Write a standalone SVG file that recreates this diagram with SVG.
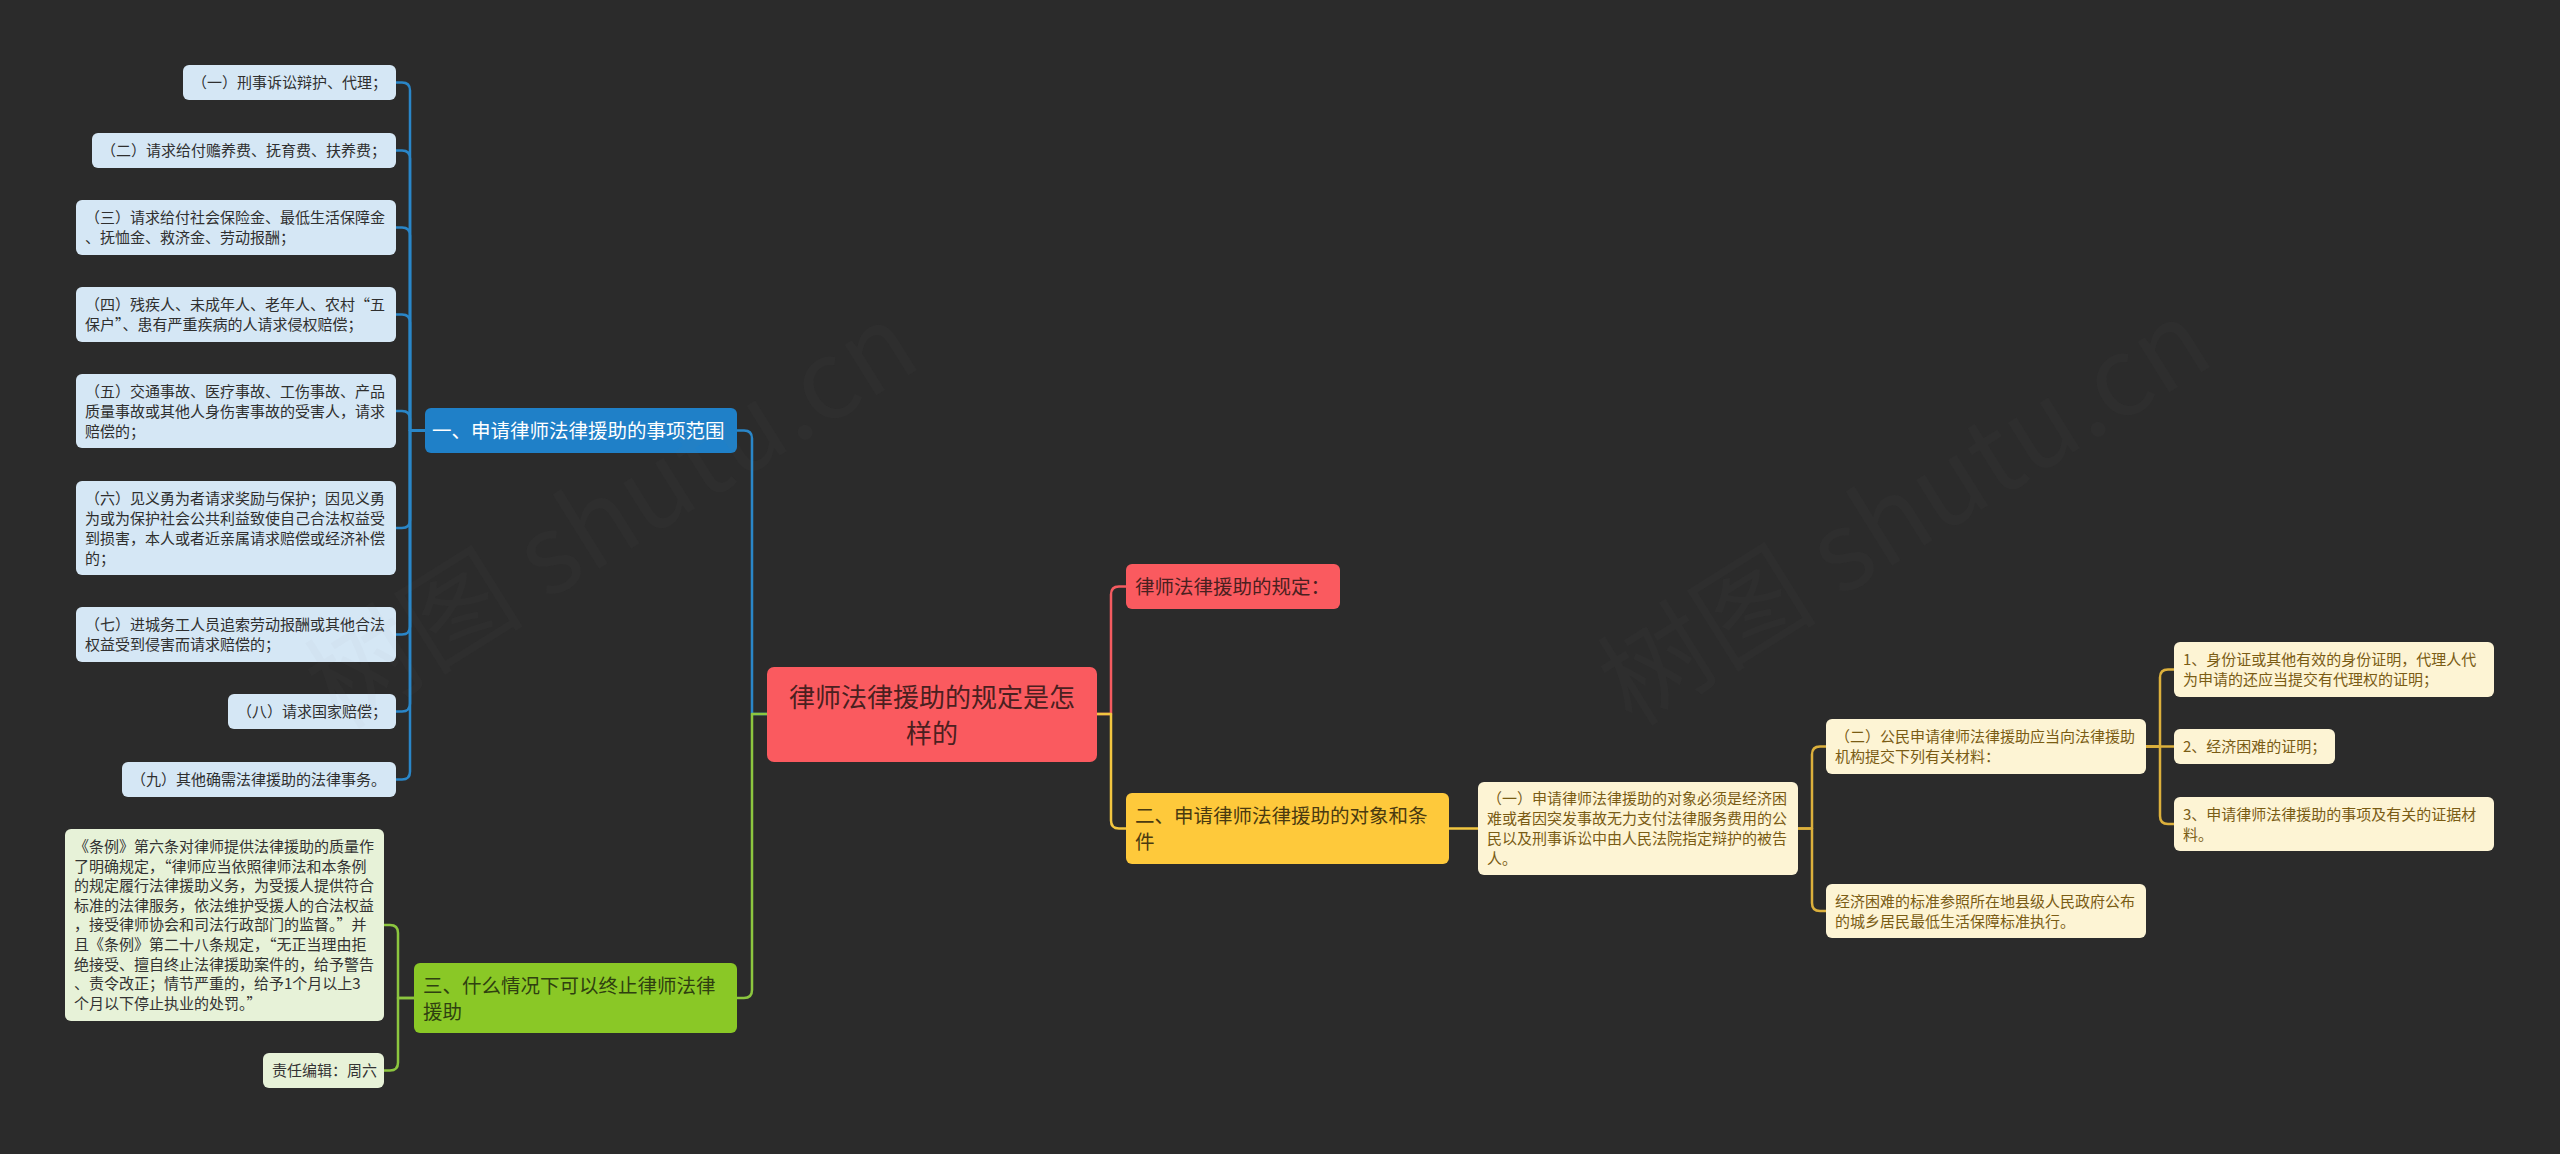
<svg xmlns="http://www.w3.org/2000/svg" width="2560" height="1154" viewBox="0 0 2560 1154">
<style>
text{font-family:"Noto Sans CJK SC","Microsoft YaHei",sans-serif}
.bg{fill:#2b2b2b}
.c{fill:none;stroke-width:2.5;stroke-linecap:round;stroke-linejoin:round}
.cb{stroke:#2a86c8}.cg{stroke:#8cc63f}.cr{stroke:#f45b60}.cy{stroke:#f2c640}.co{stroke:#dcb03c}
.nb{fill:#d5e7f5}.tb{fill:#2f2f2f;font-size:15px}
.bb{fill:#1f80c8}.tbb{fill:#ffffff;font-size:19.5px}
.root{fill:#fa5a5f}.troot{fill:#4a2020;font-size:26px}
.rr{fill:#fa5a5f}.trr{fill:#4a2020;font-size:19.5px}
.yy{fill:#fec93b}.tyy{fill:#4a3a10;font-size:19.5px}
.gg{fill:#8ac826}.tgg{fill:#2f4010;font-size:19.5px}
.no{fill:#fdf4d4}.to{fill:#7a5c14;font-size:15px}
.ng{fill:#e7f2d8}.tg{fill:#333333;font-size:15px}
.wm{fill:#9a9a9a;fill-opacity:0.035;font-size:110px}
</style>
<rect class="bg" x="0" y="0" width="2560" height="1154"/>

<g id="connectors">
<path class="c cb" d="M425 430.5H410V90.5Q410 82.5 402 82.5H396"/>
<path class="c cb" d="M425 430.5H410V158.5Q410 150.5 402 150.5H396"/>
<path class="c cb" d="M425 430.5H410V235.5Q410 227.5 402 227.5H396"/>
<path class="c cb" d="M425 430.5H410V322.5Q410 314.5 402 314.5H396"/>
<path class="c cb" d="M425 430.5H410V419Q410 411 402 411H396"/>
<path class="c cb" d="M425 430.5H410V520Q410 528 402 528H396"/>
<path class="c cb" d="M425 430.5H410V626.5Q410 634.5 402 634.5H396"/>
<path class="c cb" d="M425 430.5H410V703.5Q410 711.5 402 711.5H396"/>
<path class="c cb" d="M425 430.5H410V771.5Q410 779.5 402 779.5H396"/>
<path class="c cb" d="M767 714H752V438.5Q752 430.5 744 430.5H737"/>
<path class="c cg" d="M767 714H752V990Q752 998 744 998H737"/>
<path class="c cg" d="M414 998H398V933Q398 925 390 925H384"/>
<path class="c cg" d="M414 998H398V1062.5Q398 1070.5 390 1070.5H384"/>
<path class="c cr" d="M1097 714H1111V594.5Q1111 586.5 1119 586.5H1126"/>
<path class="c cy" d="M1097 714H1111V820.5Q1111 828.5 1119 828.5H1126"/>
<path class="c cy" d="M1449 828.5H1478"/>
<path class="c co" d="M1798 828.5H1812V754.5Q1812 746.5 1820 746.5H1826"/>
<path class="c co" d="M1798 828.5H1812V903Q1812 911 1820 911H1826"/>
<path class="c co" d="M2146 746.5H2160V677.5Q2160 669.5 2168 669.5H2174"/>
<path class="c co" d="M2146 746.5H2174"/>
<path class="c co" d="M2146 746.5H2160V816Q2160 824 2168 824H2174"/>
</g>

<g id="root">
<rect class="root" x="767" y="667" width="330" height="95" rx="7"/>
<text class="troot" text-anchor="middle"><tspan x="932" y="707">律师法律援助的规定是怎</tspan><tspan x="932" y="743">样的</tspan></text>
</g>

<g id="branch1">
<rect class="bb" x="425" y="408" width="312" height="45" rx="6"/>
<text class="tbb" x="432" y="438">一、申请律师法律援助的事项范围</text>
</g>

<g id="b1-1"><rect class="nb" x="183" y="65" width="213" height="35" rx="6"/><text class="tb" x="192" y="88">（一）刑事诉讼辩护、代理；</text></g>
<g id="b1-2"><rect class="nb" x="92" y="133" width="304" height="35" rx="6"/><text class="tb" x="101" y="156">（二）请求给付赡养费、抚育费、扶养费；</text></g>
<g id="b1-3"><rect class="nb" x="76" y="200" width="320" height="55" rx="6"/><text class="tb"><tspan x="85" y="223">（三）请求给付社会保险金、最低生活保障金</tspan><tspan x="85" y="243">、抚恤金、救济金、劳动报酬；</tspan></text></g>
<g id="b1-4"><rect class="nb" x="76" y="287" width="320" height="55" rx="6"/><text class="tb"><tspan x="85" y="310">（四）残疾人、未成年人、老年人、农村“五</tspan><tspan x="85" y="330">保户”、患有严重疾病的人请求侵权赔偿；</tspan></text></g>
<g id="b1-5"><rect class="nb" x="76" y="374" width="320" height="74" rx="6"/><text class="tb"><tspan x="85" y="396.5">（五）交通事故、医疗事故、工伤事故、产品</tspan><tspan x="85" y="416.5">质量事故或其他人身伤害事故的受害人，请求</tspan><tspan x="85" y="436.5">赔偿的；</tspan></text></g>
<g id="b1-6"><rect class="nb" x="76" y="481" width="320" height="94" rx="6"/><text class="tb"><tspan x="85" y="503.5">（六）见义勇为者请求奖励与保护；因见义勇</tspan><tspan x="85" y="523.5">为或为保护社会公共利益致使自己合法权益受</tspan><tspan x="85" y="543.5">到损害，本人或者近亲属请求赔偿或经济补偿</tspan><tspan x="85" y="563.5">的；</tspan></text></g>
<g id="b1-7"><rect class="nb" x="76" y="607" width="320" height="55" rx="6"/><text class="tb"><tspan x="85" y="630">（七）进城务工人员追索劳动报酬或其他合法</tspan><tspan x="85" y="650">权益受到侵害而请求赔偿的；</tspan></text></g>
<g id="b1-8"><rect class="nb" x="228" y="694" width="168" height="35" rx="6"/><text class="tb" x="237" y="717">（八）请求国家赔偿；</text></g>
<g id="b1-9"><rect class="nb" x="122" y="762" width="274" height="35" rx="6"/><text class="tb" x="131" y="785">（九）其他确需法律援助的法律事务。</text></g>

<g id="branch3">
<rect class="gg" x="414" y="963" width="323" height="70" rx="6"/>
<text class="tgg"><tspan x="423" y="992.5">三、什么情况下可以终止律师法律</tspan><tspan x="423" y="1018.5">援助</tspan></text>
</g>
<g id="b3-1"><rect class="ng" x="65" y="829" width="319" height="192" rx="6"/><text class="tg"><tspan x="74" y="852">《条例》第六条对律师提供法律援助的质量作</tspan><tspan x="74" y="871.6">了明确规定，“律师应当依照律师法和本条例</tspan><tspan x="74" y="891.2">的规定履行法律援助义务，为受援人提供符合</tspan><tspan x="74" y="910.8">标准的法律服务，依法维护受援人的合法权益</tspan><tspan x="74" y="930.4">，接受律师协会和司法行政部门的监督。”并</tspan><tspan x="74" y="950">且《条例》第二十八条规定，“无正当理由拒</tspan><tspan x="74" y="969.6">绝接受、擅自终止法律援助案件的，给予警告</tspan><tspan x="74" y="989.2">、责令改正；情节严重的，给予1个月以上3</tspan><tspan x="74" y="1008.8">个月以下停止执业的处罚。”</tspan></text></g>
<g id="b3-2"><rect class="ng" x="263" y="1053" width="121" height="35" rx="6"/><text class="tg" x="272" y="1076">责任编辑：周六</text></g>

<g id="branch-red">
<rect class="rr" x="1126" y="564" width="214" height="45" rx="6"/>
<text class="trr" x="1135" y="594">律师法律援助的规定：</text>
</g>

<g id="branch2">
<rect class="yy" x="1126" y="793" width="323" height="71" rx="6"/>
<text class="tyy"><tspan x="1135" y="823">二、申请律师法律援助的对象和条</tspan><tspan x="1135" y="849">件</tspan></text>
</g>
<g id="b2-1"><rect class="no" x="1478" y="782" width="320" height="93" rx="6"/><text class="to"><tspan x="1487" y="804">（一）申请律师法律援助的对象必须是经济困</tspan><tspan x="1487" y="824">难或者因突发事故无力支付法律服务费用的公</tspan><tspan x="1487" y="844">民以及刑事诉讼中由人民法院指定辩护的被告</tspan><tspan x="1487" y="864">人。</tspan></text></g>
<g id="b2-1-1"><rect class="no" x="1826" y="719" width="320" height="55" rx="6"/><text class="to"><tspan x="1835" y="742">（二）公民申请律师法律援助应当向法律援助</tspan><tspan x="1835" y="762">机构提交下列有关材料：</tspan></text></g>
<g id="b2-1-2"><rect class="no" x="1826" y="884" width="320" height="54" rx="6"/><text class="to"><tspan x="1835" y="906.5">经济困难的标准参照所在地县级人民政府公布</tspan><tspan x="1835" y="926.5">的城乡居民最低生活保障标准执行。</tspan></text></g>
<g id="b2-1-1-1"><rect class="no" x="2174" y="642" width="320" height="55" rx="6"/><text class="to"><tspan x="2183" y="665">1、身份证或其他有效的身份证明，代理人代</tspan><tspan x="2183" y="685">为申请的还应当提交有代理权的证明；</tspan></text></g>
<g id="b2-1-1-2"><rect class="no" x="2174" y="729" width="161" height="35" rx="6"/><text class="to" x="2183" y="752">2、经济困难的证明；</text></g>
<g id="b2-1-1-3"><rect class="no" x="2174" y="797" width="320" height="54" rx="6"/><text class="to"><tspan x="2183" y="819.5">3、申请律师法律援助的事项及有关的证据材</tspan><tspan x="2183" y="839.5">料。</tspan></text></g>

<g id="watermarks">
<text class="wm" text-anchor="middle" transform="translate(632 548) rotate(-32)">树图 shutu.cn</text>
<text class="wm" text-anchor="middle" transform="translate(1925 545) rotate(-32)">树图 shutu.cn</text>
</g>
</svg>
